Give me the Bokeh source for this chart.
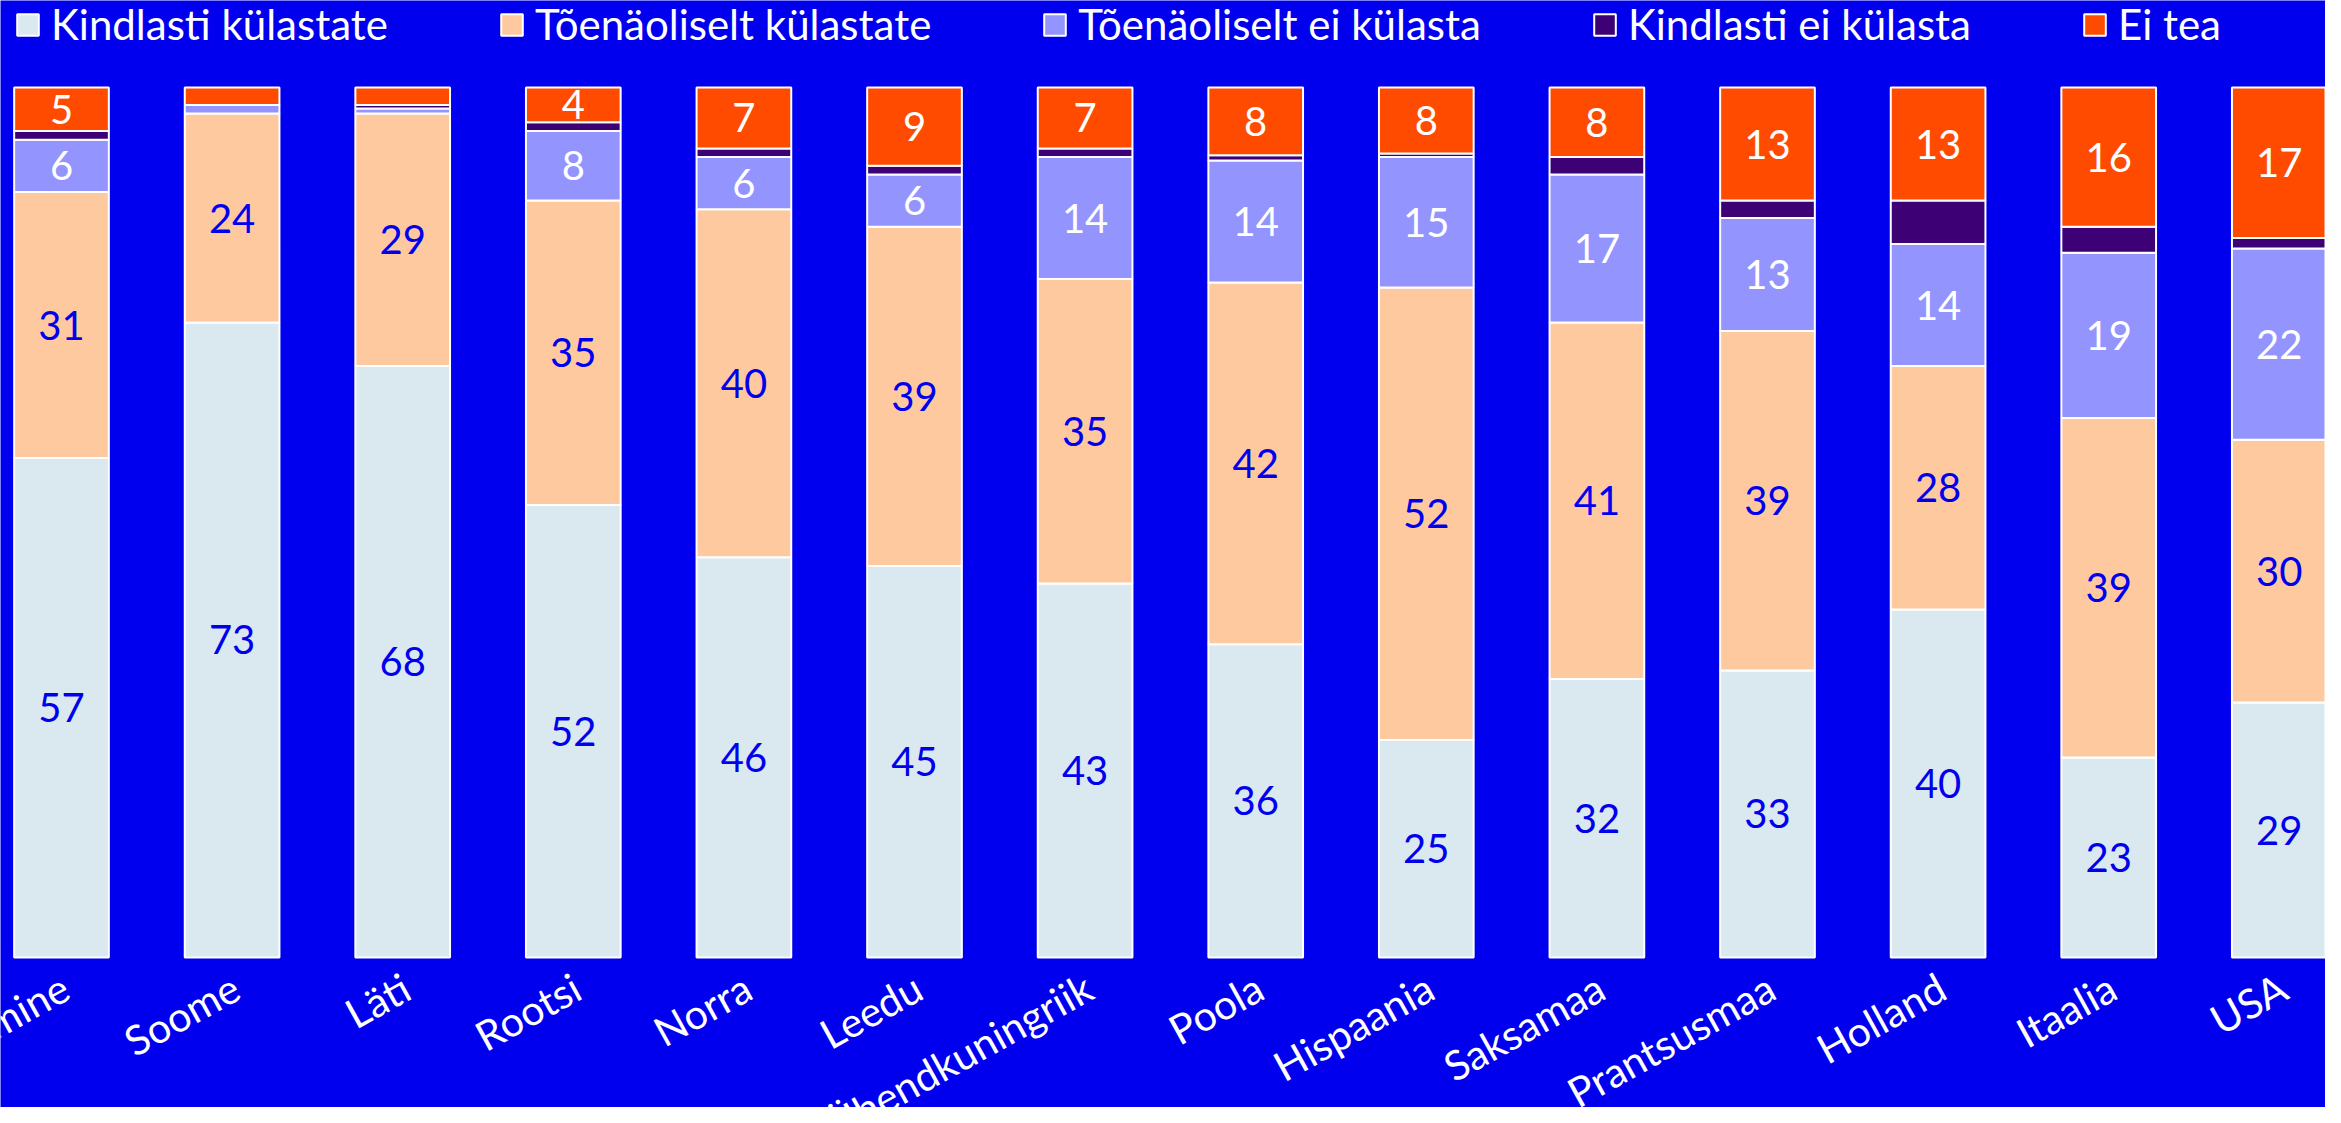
import math
from bokeh.plotting import figure
from bokeh.models import ColumnDataSource, Legend, LegendItem, Range1d
from bokeh.core.properties import value
from bokeh.embed import file_html
from bokeh.resources import INLINE

# ---- data ----
categories = ["Eesti keskmine", "Soome", "Läti", "Rootsi", "Norra", "Leedu",
              "Ühendkuningriik", "Poola", "Hispaania", "Saksamaa", "Prantsusmaa",
              "Holland", "Itaalia", "USA"]
series_names = ["Kindlasti külastate", "Tõenäoliselt külastate",
                "Tõenäoliselt ei külasta", "Kindlasti ei külasta", "Ei tea"]
kindlasti = [57.4, 73, 68, 52, 46, 45, 43, 36, 25, 32, 33, 40, 23, 29.3]
toenaoliselt = [30.6, 24, 29, 35, 40, 39, 35, 41.6, 52, 41, 39, 28, 39, 30.2]
toenaoliselt_ei = [6, 1, 0.6, 8, 6, 6, 14, 14, 15, 17, 13, 14, 19, 22.0]
kindlasti_ei = [1, 0, 0.4, 1, 1, 1, 1, 0.6, 0.4, 2, 2, 5, 3, 1.2]
ei_tea = [5, 2, 2, 4, 7, 9, 7, 7.8, 7.6, 8, 13, 13, 16, 17.3]

series = [kindlasti, toenaoliselt, toenaoliselt_ei, kindlasti_ei, ei_tea]
colors = ["#DAE8F0", "#FFC9A0", "#9494FF", "#3D0075", "#FF4B00"]
label_colors = ["#0000EE", "#0000EE", "white", "white", "white"]
show_labels = [True, True, True, False, True]

BG = "#0000EE"
FONT = "Lato"
W, H = 2325, 1107
PX_PER_UNIT = 8.7          # 100 % = 870 px
TOP_PAD = 87               # space above the bars
BOTTOM_PAD = H - TOP_PAD - 100 * PX_PER_UNIT
BAR_STEP = 170.6           # px between bar centres
FIRST_BAR_X = 61           # px from left edge to first bar centre
CAT_LABEL_Y = -0.6         # just below the bars (style position)

x = list(range(len(categories)))
x_start = -FIRST_BAR_X / BAR_STEP

p = figure(width=W, height=H, output_backend="svg", toolbar_location=None,
           x_range=Range1d(x_start, x_start + W / BAR_STEP),
           y_range=Range1d(-BOTTOM_PAD / PX_PER_UNIT, 100 + TOP_PAD / PX_PER_UNIT),
           x_axis_location=None, y_axis_location=None,
           min_border_left=0, min_border_right=0,
           min_border_top=0, min_border_bottom=0)
p.background_fill_color = BG
p.border_fill_color = BG
p.outline_line_color = None
p.xgrid.visible = False
p.ygrid.visible = False

bottoms = [0.0] * len(x)
renderers = []
lx, ly, lt, lc = [], [], [], []
for name, vals, col, lcol, show in zip(series_names, series, colors, label_colors, show_labels):
    tops = [b + v for b, v in zip(bottoms, vals)]
    src = ColumnDataSource(dict(x=x, bottom=bottoms, top=tops))
    r = p.vbar(x="x", bottom="bottom", top="top", width=0.555, source=src,
               fill_color=col, line_color="white", line_width=2)
    renderers.append((name, r))
    if show:
        for xi, b, v in zip(x, bottoms, vals):
            if v >= 3.5:
                lx.append(xi)
                ly.append(b + v / 2)
                lt.append(f"{v:.0f}")
                lc.append(lcol)
    bottoms = tops

lsrc = ColumnDataSource(dict(x=lx, y=ly, text=lt, color=lc))
p.text(x="x", y="y", text="text", source=lsrc, text_color="color",
       text_align="center", text_baseline="middle",
       text_font=value(FONT), text_font_size="40px")

# category labels, rotated, right end under each bar centre
csrc = ColumnDataSource(dict(x=x, y=[CAT_LABEL_Y] * len(x), text=categories))
p.text(x="x", y="y", text="text", source=csrc, angle=math.radians(29),
       x_offset=-8, text_align="right", text_baseline="top", text_color="white",
       text_font=value(FONT), text_font_size="41px")

legend = Legend(items=[LegendItem(label=n, renderers=[r]) for n, r in renderers],
                orientation="horizontal", location=(14, H - 49))
legend.background_fill_alpha = 0
legend.border_line_color = None
legend.label_text_color = "white"
legend.label_text_font = FONT
legend.label_text_font_size = "42px"
legend.glyph_width = 27
legend.glyph_height = 27
legend.spacing = 110
legend.label_standoff = 10
legend.padding = 0
legend.margin = 0
p.add_layout(legend, "center")

open("out.html", "w").write(file_html(p, INLINE))
